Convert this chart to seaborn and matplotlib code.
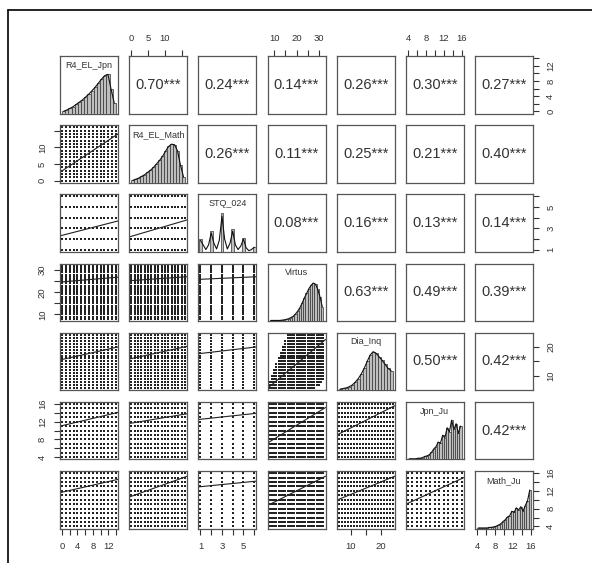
import numpy as np
import pandas as pd
import matplotlib.pyplot as plt
from matplotlib.lines import Line2D
import seaborn as sns

sns.set_style("white")
plt.rcParams["font.family"] = ["Liberation Sans", "DejaVu Sans"]

# Variables and their value ranges
var_names = ["R4_EL_Jpn", "R4_EL_Math", "STQ_024", "Virtus", "Dia_Inq", "Jpn_Ju", "Math_Ju"]
var_lo = [0, 0, 1, 8, 6, 4, 4]
var_hi = [14, 16, 6, 32, 24, 16, 16]

# Axis ticks (R pairs style: every tick drawn, some labels dropped)
var_ticks = [
    [0, 2, 4, 6, 8, 10, 12, 14],
    [0, 5, 10, 15],
    [1, 2, 3, 4, 5, 6],
    [10, 15, 20, 25, 30],
    [10, 15, 20],
    [4, 6, 8, 10, 12, 14, 16],
    [4, 6, 8, 10, 12, 14, 16],
]
var_ticklabels = [
    ["0", "", "4", "", "8", "", "12", ""],
    ["0", "5", "10", ""],
    ["1", "", "3", "", "5", ""],
    ["10", "", "20", "", "30"],
    ["10", "", "20"],
    ["4", "", "8", "", "12", "", "16"],
    ["4", "", "8", "", "12", "", "16"],
]

# Upper panels: correlations, row by row (columns to the right of the diagonal)
corr_rows = [
    [0.70, 0.24, 0.14, 0.26, 0.30, 0.27],
    [0.26, 0.11, 0.25, 0.21, 0.40],
    [0.08, 0.16, 0.13, 0.14],
    [0.63, 0.49, 0.39],
    [0.50, 0.42],
    [0.42],
]

# Lower panels: fitted line, value at left and right panel edge (rows 2..7)
fit_left = [
    [2.5],
    [2.3, 2.2],
    [24.6, 25.2, 25.8],
    [15.5, 15.8, 17.6, 5.9],
    [11.0, 11.6, 12.5, 7.2, 9.0],
    [11.6, 10.6, 12.9, 8.7, 9.9, 9.0],
]
fit_right = [
    [14.0],
    [3.7, 3.8],
    [26.8, 27.0, 27.0],
    [19.9, 20.1, 19.9, 22.4],
    [14.1, 13.8, 13.9, 15.2, 15.6],
    [14.6, 15.3, 14.2, 15.3, 15.3, 15.0],
]

# Virtus x Dia_Inq: range of Dia_Inq values observed at each Virtus score (8..32)
dia_min_by_virtus = [6] * 21 + [7, 7, 8, 9]
dia_max_by_virtus = [8, 10, 12, 14, 16, 18, 20, 22] + [24] * 17

# Diagonal histograms (bar heights as share of panel height)
hist_heights = [
    [0.04, 0.06, 0.09, 0.12, 0.16, 0.20, 0.24, 0.29, 0.34, 0.40, 0.46, 0.53, 0.60, 0.66, 0.68, 0.42, 0.18],
    [0.04, 0.06, 0.08, 0.11, 0.14, 0.18, 0.22, 0.27, 0.33, 0.39, 0.46, 0.55, 0.63, 0.67, 0.66, 0.55, 0.30, 0.10],
    [0.22, 0, 0, 0, 0.37, 0, 0, 0, 0.68, 0, 0, 0, 0.39, 0, 0, 0, 0.24, 0, 0, 0, 0.09],
    [0.01, 0.01, 0.01, 0.01, 0.01, 0.015, 0.02, 0.03, 0.04, 0.06, 0.08, 0.12, 0.17, 0.23, 0.31, 0.40,
     0.48, 0.56, 0.62, 0.66, 0.64, 0.55, 0.42, 0.25],
    [0.02, 0.03, 0.04, 0.06, 0.09, 0.14, 0.20, 0.28, 0.38, 0.50, 0.61, 0.67, 0.64, 0.58, 0.52, 0.45, 0.38, 0.34],
    [0.01, 0.01, 0.01, 0.01, 0.02, 0.02, 0.03, 0.05, 0.06, 0.08, 0.12, 0.18, 0.22, 0.30, 0.28, 0.42,
     0.38, 0.55, 0.48, 0.68, 0.52, 0.62, 0.45, 0.58],
    [0.01, 0.01, 0.01, 0.01, 0.01, 0.02, 0.02, 0.03, 0.04, 0.06, 0.08, 0.12, 0.15, 0.20, 0.22, 0.30,
     0.28, 0.36, 0.32, 0.38, 0.30, 0.40, 0.48, 0.67],
]
hist_lo = [0, 0, 0.875, 8, 6, 4, 4]
hist_hi = [14, 16, 6.125, 32, 24, 16, 16]
# density curve for STQ_024 (others follow the bar tops)
stq_density = [0.20, 0.12, 0.04, 0.12, 0.33, 0.15, 0.05, 0.20, 0.62, 0.22, 0.05, 0.15, 0.36, 0.12,
               0.04, 0.10, 0.22, 0.07, 0.02, 0.04, 0.08]

W, H = 592, 563
fig = plt.figure(figsize=(W / 100, H / 100), dpi=100)
n = len(var_names)
left_px, top_px, step_px, box_w, box_h = 60, 56, 69.17, 58, 57.5
frame_col = "#555555"
txt_col = "#333333"


def lims(k):
    pad = 0.04 * (var_hi[k] - var_lo[k])
    return var_lo[k] - pad, var_hi[k] + pad


def levels(k):
    return np.arange(var_lo[k], var_hi[k] + 1)


for i in range(n):
    for j in range(n):
        rect = [(left_px + j * step_px) / W, 1 - (top_px + i * step_px + box_h) / H, box_w / W, box_h / H]
        ax = fig.add_axes(rect)
        ax.set_xlim(lims(j))
        ax.set_ylim(lims(i))
        for sp in ax.spines.values():
            sp.set_color(frame_col)
            sp.set_linewidth(0.9)
        ax.set_xticks([])
        ax.set_yticks([])
        ax.tick_params(axis="both", length=4, width=0.8, color=txt_col, pad=5.5,
                       labelsize=6.8, labelcolor=txt_col)

        # outer axes, alternating sides
        if i == 0 and j % 2 == 1:
            ax.set_xticks(var_ticks[j], var_ticklabels[j])
            ax.tick_params(axis="x", top=True, bottom=False, labeltop=True, labelbottom=False)
        if i == n - 1 and j % 2 == 0:
            ax.set_xticks(var_ticks[j], var_ticklabels[j])
            ax.tick_params(axis="x", bottom=True, labelbottom=True)
        if j == 0 and i % 2 == 1:
            ax.set_yticks(var_ticks[i], var_ticklabels[i])
            ax.tick_params(axis="y", left=True, labelleft=True, labelrotation=90)
            for lab in ax.get_yticklabels():
                lab.set_va("center")
        if j == n - 1 and i % 2 == 0:
            ax.set_yticks(var_ticks[i], var_ticklabels[i])
            ax.tick_params(axis="y", right=True, left=False, labelright=True, labelleft=False,
                           labelrotation=90)
            for lab in ax.get_yticklabels():
                lab.set_va("center")

        if i < j:
            r = corr_rows[i][j - i - 1]
            ax.text(0.5, 0.5, f"{r:.2f}***", transform=ax.transAxes, ha="center", va="center",
                    fontsize=10.5, color=txt_col)
        elif i > j:
            gx, gy = np.meshgrid(levels(j), levels(i))
            pts = pd.DataFrame({"x": gx.ravel(), "y": gy.ravel()})
            if (j, i) == (3, 4):
                vi = (pts["x"] - var_lo[3]).astype(int).to_numpy()
                keep = (pts["y"].to_numpy() >= np.array(dia_min_by_virtus)[vi]) & \
                       (pts["y"].to_numpy() <= np.array(dia_max_by_virtus)[vi])
                pts = pts[keep]
            sns.scatterplot(data=pts, x="x", y="y", ax=ax, s=1.3, marker="s", color="#222222",
                            linewidth=0, legend=False)
            xl = lims(j)
            line = pd.DataFrame({"x": [xl[0], xl[1]],
                                 "y": [fit_left[i - 1][j], fit_right[i - 1][j]]})
            sns.lineplot(data=line, x="x", y="y", ax=ax, color="#222222", linewidth=0.8)
            ax.set_xlabel("")
            ax.set_ylabel("")
        else:
            hax = fig.add_axes(rect)
            hax.set_facecolor("none")
            hts = hist_heights[j]
            nb = len(hts)
            edges = np.linspace(hist_lo[j], hist_hi[j], nb + 1)
            centers = (edges[:-1] + edges[1:]) / 2
            hdf = pd.DataFrame({"x": centers, "w": hts, "d": stq_density if j == 2 else hts})
            sns.histplot(data=hdf, x="x", weights="w", bins=list(edges), ax=hax, color="#bebebe",
                         edgecolor="#333333", linewidth=0.5, alpha=1)
            sns.lineplot(data=hdf, x="x", y="d", ax=hax, color="#111111", linewidth=0.8)
            hax.set_xlim(lims(j))
            hax.set_ylim(0, 1)
            hax.axis("off")
            hax.text(0.5, 0.84, var_names[j], transform=hax.transAxes, ha="center", va="center",
                     fontsize=6.5, color=txt_col)

# frame lines of the original screenshot
fig.add_artist(Line2D([8 / W, 1], [1 - 10 / H, 1 - 10 / H], transform=fig.transFigure,
                      color="black", linewidth=1.2))
fig.add_artist(Line2D([8 / W, 8 / W], [0, 1 - 10 / H], transform=fig.transFigure,
                      color="black", linewidth=1.2))

fig.savefig("out.png", dpi=100)
